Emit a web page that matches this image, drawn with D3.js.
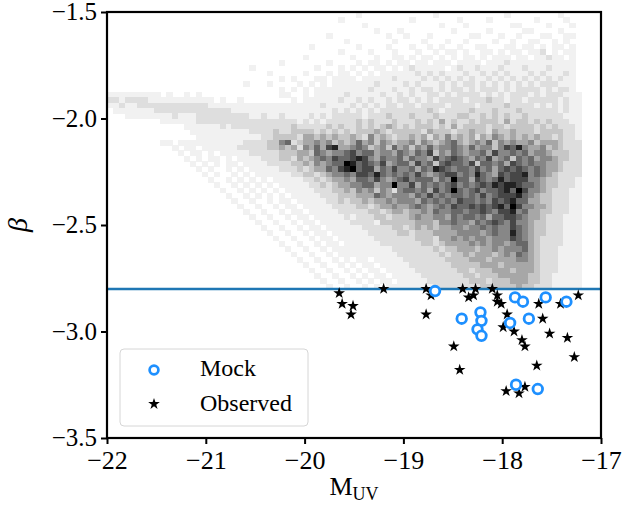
<!DOCTYPE html>
<html>
<head>
<meta charset="utf-8">
<script src="https://cdn.jsdelivr.net/npm/d3@7"></script>
<style>
  body { margin: 0; background: #fff; }
  text { font-family: "Liberation Serif", "DejaVu Serif", serif; fill: #000; }
</style>
</head>
<body>
<script>
const dimensions = { width: 627, height: 509 }
const plot = { left: 107, right: 601, top: 12, bottom: 438 }

// tick values
const xTicks = [-22, -21, -20, -19, -18, -17]
const yTicks = [-3.5, -3.0, -2.5, -2.0, -1.5]

// 2d histogram of the mock sample, one string per beta bin (top row = -1.5)
// each char is a grey level 0-9, M_UV bins start at -22
const histMStart = -22
const histMStep = 0.06
const histBetaStart = -1.5
const histBetaStep = 0.025
const histRows = [
  "0000000000 0000000000 0000000000 0000000000 0010000000 0000010000 0000000100 0000001000",
  "0000000000 0000000000 0000000000 0000000001 0000000000 0100000001 0000100000 0010000100",
  "0000000000 0000000000 0000000000 0000000000 0001000000 0000001000 1000000011 0000100010",
  "0000000000 0000000000 0000000000 0000000000 0000010001 0000000010 0000100000 1100001000",
  "0000000000 0000000000 0000000000 0000000100 0000000100 1000100000 0110001001 0001100110",
  "0000000000 0000000000 0000000000 0000000000 1000000010 0001000100 1000010010 0110010100",
  "0000000000 0000000000 0000000000 0000100000 0010000100 0100101001 0011000110 1101011010",
  "0000000000 0000000000 0000000000 0000000001 0000100010 0010010110 1001101011 0112010110",
  "0000000000 0000000000 0000000000 0001000000 0100010011 0101101010 1101011101 1011211010",
  "0000000000 0000000000 0000000001 0000000100 0010110101 1011011101 1110111211 1111111110",
  "0000000000 0000000000 0000100000 0000010001 0101011010 1211111012 1121112111 2111211110",
  "0000000000 0000000000 0000000100 0001000101 1010101111 1121212111 2112121211 1212111210",
  "0000000000 0000000000 0000000001 0100011011 1101111121 1112121212 1211212121 2121212110",
  "0000000000 0000000000 0001000100 0010101011 1111121111 2121112121 2212121212 1212221110",
  "0000000000 0000000000 0000000001 0101011111 1111211121 1212212122 1212221212 2221212210",
  "1111111110 1001010000 0000000001 1001011111 2111112112 1211221212 2221212122 2121222111",
  "2212222111 1111111101 0010000000 0101111112 1121211212 2121212222 1222322122 1222221211",
  "1121122222 2222222111 1111111111 1111112111 1212121221 2212222122 2212222322 2212121211",
  "0111111122 2222222222 2111111111 1111111121 2121212222 2222321222 2322232223 2222221211",
  "0001111111 1211122222 2222112112 1111212122 2221222322 2322232223 3223232322 3222222111",
  "0000000001 1111122222 2222222222 2212121222 2232322232 2232324232 2323332423 3232322211",
  "0000000000 0001111112 1222222222 2322222323 2232323432 3233323242 3333233233 3323232221",
  "0000000000 0000111111 1111222232 2333323232 3233343233 3332433323 3433243343 3323333221",
  "0000000000 0000011111 1111112233 3324434343 3432534323 3434243534 3424354343 4343323221",
  "0000000001 1011111111 1112222335 6234454534 3464535434 4535434564 3454635454 4534443222",
  "0000000000 0101101111 1122222334 3425464784 4565345364 5354645565 4645535768 5445343222",
  "0000000000 0010110101 1111222223 3344365455 6756645546 5465735465 4556475565 6455433322",
  "0000000000 0001010110 1011112223 3243456576 6787546556 4655475676 5465745636 5645543322",
  "0000000000 0000101010 1101111222 2334354566 9867657456 6475636766 5736656476 5655443222",
  "0000000000 0000010100 1010111112 2232344657 8967746575 5646587656 6575646767 6565443222",
  "0000000000 0000001010 0101011111 1223323455 6577686565 6575456775 6586547677 8565432222",
  "0000000000 0000000100 1010101011 1112232344 5466575456 7566646596 6476568677 7554332221",
  "0000000000 0000000010 0101010101 1111223234 4556645595 5746565675 6567687887 6654332221",
  "0000000000 0000000001 0010101010 1111122233 4354535425 6656475696 5675667869 7554322211",
  "0000000000 0000000000 1001010101 0111112223 3344465455 5465756566 5657567778 6543322211",
  "0000000000 0000000000 0100100101 1011111223 2334344545 5546565657 6656576786 6443322211",
  "0000000000 0000000000 0010010010 1101111122 2233234454 4565456576 6767678697 5544322211",
  "0000000000 0000000000 0001001001 0110111112 2222332344 3445465566 5667657785 6443322211",
  "0000000000 0000000000 0000100100 1011011111 2122233233 3454455465 6656466776 5443222111",
  "0000000000 0000000000 0000010010 0101101111 1222213333 3344435565 5465676575 5433222111",
  "0000000000 0000000000 0000001001 0010110111 1112222233 2343434455 4556565576 5433222111",
  "0000000000 0000000000 0000000100 1001011011 1111222223 3233344445 5554565586 5433222111",
  "0000000000 0000000000 0000000010 0100101101 1111122222 2233324454 5455455576 5432222111",
  "0000000000 0000000000 0000000001 0010010110 1111112222 2223323444 4545455456 6432222111",
  "0000000000 0000000000 0000000000 1001001011 1111111122 2222232334 4434454555 6432221111",
  "0000000000 0000000000 0000000000 0100100101 1111111112 2222223233 4344434546 5432221111",
  "0000000000 0000000000 0000000000 0010010010 1011011111 2222222333 3444344445 5432221111",
  "0000000000 0000000000 0000000000 0001001001 0101101111 1222222233 3334443444 4432221111",
  "0000000000 0000000000 0000000000 0000100100 1010110111 1122222223 3233344434 4432221111",
  "0000000000 0000000000 0000000000 0000010010 0101011011 1112222222 3323334444 4332211111",
  "0000000000 0000000000 0000000000 0000001001 0010101101 1111222222 2333233344 4332211111",
  "0000000000 0000000000 0000000000 0000000100 1001010111 1111122222 2223333334 3322211111"
]

const betaCut = -2.8

// mock galaxies below the cut
const mockM = [-18.68, -18.22, -18.41, -18.21, -18.25, -18.21, -17.87, -17.79, -17.56, -17.35, -17.73, -17.92, -17.86, -17.64]
const mockBeta = [-2.81, -2.91, -2.94, -2.95, -2.99, -3.02, -2.84, -2.86, -2.84, -2.86, -2.94, -2.96, -3.25, -3.27]

// observed galaxies
const obsM = [-19.65, -19.62, -19.51, -19.53, -19.20, -18.77, -18.72, -18.77, -18.40, -18.27, -18.34, -18.29,
  -18.10, -18.05, -18.05, -18.01, -17.95, -17.99, -17.88, -17.80, -17.77, -17.63, -17.65, -17.59,
  -17.52, -17.41, -17.34, -17.27, -17.23, -18.49, -18.43, -17.96, -17.83, -17.77]
const obsBeta = [-2.82, -2.87, -2.88, -2.92, -2.80, -2.80, -2.83, -2.92, -2.80, -2.80, -2.84, -2.83,
  -2.80, -2.83, -2.86, -2.87, -2.92, -2.98, -3.00, -3.04, -3.07, -2.87, -3.16, -2.94,
  -3.01, -2.87, -3.03, -3.12, -2.83, -3.07, -3.18, -3.28, -3.29, -3.26]

const svg = d3.select('body').append('svg')
    .attr('width', dimensions.width)
    .attr('height', dimensions.height)

const x = d3.scaleLinear().domain([-22, -17]).range([plot.left, plot.right])
const y = d3.scaleLinear().domain([-3.5, -1.5]).range([plot.bottom, plot.top])
const grey = d3.scaleSequential(d3.interpolateGreys).domain([0, 9])

// heatmap
const cells = []
histRows.forEach(function (row, i) {
    row.replace(/ /g, '').split('').forEach(function (ch, j) {
        const v = +ch
        if (v > 0) {
            cells.push({ m: histMStart + j * histMStep, b: histBetaStart - i * histBetaStep, v: v })
        }
    })
})

svg.append('g')
    .attr('shape-rendering', 'crispEdges')
    .selectAll('rect')
    .data(cells)
    .enter()
    .append('rect')
    .attr('x', d => x(d.m))
    .attr('y', d => y(d.b))
    .attr('width', d => x(d.m + histMStep) - x(d.m) + 0.4)
    .attr('height', d => y(d.b - histBetaStep) - y(d.b) + 0.4)
    .attr('fill', d => grey(d.v))

// beta cut line
svg.append('line')
    .attr('x1', x(-22))
    .attr('x2', x(-17))
    .attr('y1', y(betaCut))
    .attr('y2', y(betaCut))
    .attr('stroke', '#1f77b4')
    .attr('stroke-width', 2.5)

const star = d3.symbol().type(d3.symbolStar).size(42)

svg.append('g')
    .selectAll('path')
    .data(obsM.map((m, i) => [m, obsBeta[i]]))
    .enter()
    .append('path')
    .attr('d', star)
    .attr('transform', d => `translate(${x(d[0])},${y(d[1])})`)
    .attr('fill', '#000')

svg.append('g')
    .selectAll('circle')
    .data(mockM.map((m, i) => [m, mockBeta[i]]))
    .enter()
    .append('circle')
    .attr('cx', d => x(d[0]))
    .attr('cy', d => y(d[1]))
    .attr('r', 4.8)
    .attr('fill', '#fff')
    .attr('stroke', '#1e90ff')
    .attr('stroke-width', 2.8)

// frame
svg.append('rect')
    .attr('x', plot.left)
    .attr('y', plot.top)
    .attr('width', plot.right - plot.left)
    .attr('height', plot.bottom - plot.top)
    .attr('fill', 'none')
    .attr('stroke', '#000')
    .attr('stroke-width', 2.2)

// axes
const fmt = d => '\u2212' + Math.abs(d)
svg.append('g')
    .attr('transform', `translate(0,${plot.bottom})`)
    .call(d3.axisBottom(x).tickValues(xTicks).tickSize(6).tickFormat(fmt))
    .call(g => g.select('.domain').remove())
    .call(g => g.selectAll('line').attr('stroke-width', 2))
    .call(g => g.selectAll('text').attr('y', 31).attr('dy', null)
        .style('font-size', '26px').style('font-family', '"Liberation Serif", serif'))

svg.append('g')
    .attr('transform', `translate(${plot.left},0)`)
    .call(d3.axisLeft(y).tickValues(yTicks).tickSize(6).tickFormat(d => '\u2212' + Math.abs(d).toFixed(1)))
    .call(g => g.select('.domain').remove())
    .call(g => g.selectAll('line').attr('stroke-width', 2))
    .call(g => g.selectAll('text').attr('x', -10).attr('dy', '0.3em')
        .style('font-size', '25px').style('font-family', '"Liberation Serif", serif'))

// axis labels
const xLabel = svg.append('text')
    .attr('x', (plot.left + plot.right) / 2)
    .attr('y', 495)
    .attr('text-anchor', 'middle')
    .style('font-size', '26px')
xLabel.append('tspan').text('M')
xLabel.append('tspan').attr('dy', 5).style('font-size', '18px').text('UV')

svg.append('text')
    .attr('transform', 'translate(27,225) rotate(-90)')
    .attr('text-anchor', 'middle')
    .style('font-size', '28px')
    .style('font-style', 'italic')
    .text('β')

// legend
const legend = svg.append('g')
legend.append('rect')
    .attr('x', 120)
    .attr('y', 349)
    .attr('width', 188)
    .attr('height', 77)
    .attr('rx', 4)
    .attr('fill', '#fff')
    .attr('fill-opacity', 0.8)
    .attr('stroke', '#d6d6d6')
    .attr('stroke-width', 1)
legend.append('circle')
    .attr('cx', 154)
    .attr('cy', 370)
    .attr('r', 4.4)
    .attr('fill', '#fff')
    .attr('stroke', '#1e90ff')
    .attr('stroke-width', 2.7)
legend.append('path')
    .attr('d', star)
    .attr('transform', 'translate(154,404)')
    .attr('fill', '#000')
legend.append('text').attr('x', 200).attr('y', 376).style('font-size', '24px').text('Mock')
legend.append('text').attr('x', 200).attr('y', 411).style('font-size', '24px').text('Observed')
</script>
</body>
</html>
